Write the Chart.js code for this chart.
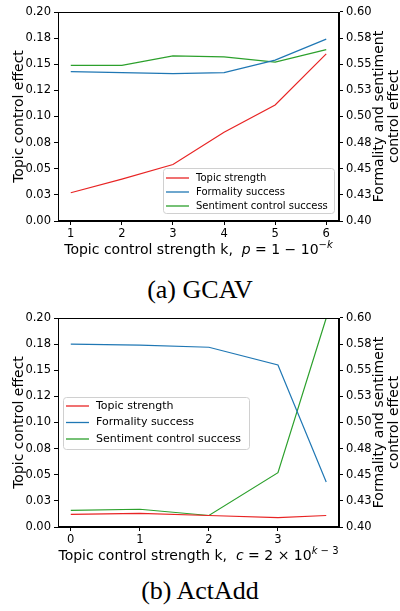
<!DOCTYPE html>
<html>
<head>
<meta charset="utf-8">
<script src="https://cdn.jsdelivr.net/npm/chart.js@4"></script>
<style>
  body { margin: 0; background: #fff; width: 400px; height: 611px; position: relative; overflow: hidden; }
  .box { position: absolute; left: 0; width: 400px; height: 262px; }
  .cap { position: absolute; left: 0; width: 400px; text-align: center; font-family: "Liberation Serif", serif; font-size: 26px; line-height: 30px; color: #000; }
</style>
</head>
<body>
<div class="box" style="top:0px"><canvas id="gcav" width="400" height="262"></canvas></div>
<div class="cap" style="top:275px">(a) GCAV</div>
<div class="box" style="top:306px"><canvas id="actadd" width="400" height="262"></canvas></div>
<div class="cap" style="top:576px">(b) ActAdd</div>
<script>
// values
const seriesNames = ["Topic strength", "Formality success", "Sentiment control success"];
const gcavK = [1, 2, 3, 4, 5, 6];
const gcavTopic = [0.027, 0.040, 0.054, 0.085, 0.111, 0.160];
const gcavFormality = [0.543, 0.542, 0.541, 0.542, 0.554, 0.574];
const gcavSentiment = [0.549, 0.549, 0.558, 0.557, 0.552, 0.564];

const actK = [0, 1, 2, 3, 3.699];
const actTopic = [0.012, 0.013, 0.011, 0.009, 0.011];
const actFormality = [0.575, 0.574, 0.572, 0.555, 0.443];
const actSentiment = [0.416, 0.417, 0.411, 0.452, 0.600];

const gcavTicks = [1, 2, 3, 4, 5, 6];
const actTicks = [0, 1, 2, 3];
const leftTicks = ["0.00", "0.03", "0.05", "0.08", "0.10", "0.12", "0.15", "0.18", "0.20"];
const rightTicks = ["0.40", "0.43", "0.45", "0.48", "0.50", "0.53", "0.55", "0.58", "0.60"];

const colors = ["#e82424", "#1f77b4", "#2ca02c"];
const FONT = "'DejaVu Sans', sans-serif";

const pts = (xs, ys) => xs.map((x, i) => ({ x: x, y: ys[i] }));

// draws frame, axis titles (with mathtext-ish parts) and the legend box
const decoPlugin = {
  id: "deco",
  afterDraw(chart, args, opts) {
    const ctx = chart.ctx;
    const a = chart.chartArea;
    ctx.save();
    ctx.strokeStyle = "#000";
    ctx.lineWidth = 1;
    ctx.strokeRect(Math.round(a.left) + 0.5, Math.round(a.top) + 0.5, Math.round(a.right - a.left) - 1, Math.round(a.bottom - a.top) - 1);

    // y titles
    const midY = (a.top + a.bottom) / 2;
    ctx.fillStyle = "#000";
    ctx.font = "14px " + FONT;
    ctx.textAlign = "center";
    ctx.textBaseline = "middle";
    ctx.save();
    ctx.translate(19, midY);
    ctx.rotate(-Math.PI / 2);
    ctx.fillText("Topic control effect", 0, 0);
    ctx.restore();
    ctx.save();
    ctx.translate(379, midY);
    ctx.rotate(-Math.PI / 2);
    ctx.fillText("Formality and sentiment", 0, 0);
    ctx.restore();
    ctx.save();
    ctx.translate(394, midY);
    ctx.rotate(-Math.PI / 2);
    ctx.fillText("control effect", 0, 0);
    ctx.restore();

    // x title built from segments
    const segs = opts.xTitle;
    const fontOf = s => (s.it ? "italic " : "") + (s.sup ? "10px " : "14px ") + FONT;
    let total = 0;
    segs.forEach(s => { ctx.font = fontOf(s); total += ctx.measureText(s.t).width; });
    let x = (a.left + a.right) / 2 - total / 2;
    ctx.textAlign = "left";
    ctx.textBaseline = "alphabetic";
    const base = opts.xTitleY + 5;
    segs.forEach(s => {
      ctx.font = fontOf(s);
      ctx.fillText(s.t, x, s.sup ? base - 6 : base);
      x += ctx.measureText(s.t).width;
    });

    // legend
    const L = opts.legend;
    ctx.fillStyle = "rgba(255,255,255,0.8)";
    ctx.strokeStyle = "#d0d0d0";
    ctx.beginPath();
    ctx.roundRect(L.x + 0.5, L.y + 0.5, L.w, L.h, 3);
    ctx.fill();
    ctx.stroke();
    ctx.font = L.size + "px " + FONT;
    ctx.textBaseline = "middle";
    chart.data.datasets.forEach((ds, i) => {
      const yy = L.y + L.first + i * L.gap;
      ctx.strokeStyle = ds.borderColor;
      ctx.lineWidth = 1.3;
      ctx.beginPath();
      ctx.moveTo(L.x + 3, yy);
      ctx.lineTo(L.x + 26, yy);
      ctx.stroke();
      ctx.fillStyle = "#000";
      ctx.fillText(ds.label, L.x + 33, yy);
    });
    ctx.restore();
  }
};

function makeChart(id, xs, topic, form, sent, xMin, xMax, xTicks, xTitle, legend) {
  const ds = (label, data, color, axis) => ({
    label: label, data: data, borderColor: color, backgroundColor: color,
    borderWidth: 1.2, pointRadius: 0, tension: 0, yAxisID: axis
  });
  const tickFont = { family: FONT, size: 11.5 };
  return new Chart(document.getElementById(id), {
    type: "line",
    data: {
      datasets: [
        ds(seriesNames[0], pts(xs, topic), colors[0], "y"),
        ds(seriesNames[1], pts(xs, form), colors[1], "y1"),
        ds(seriesNames[2], pts(xs, sent), colors[2], "y1")
      ]
    },
    options: {
      responsive: false,
      animation: false,
      layout: { padding: { top: 12, left: 0, right: 0, bottom: 0 } },
      plugins: {
        legend: { display: false },
        tooltip: { enabled: false },
        deco: { xTitle: xTitle, xTitleY: 249, legend: legend }
      },
      scales: {
        x: {
          type: "linear", min: xMin, max: xMax,
          afterBuildTicks: s => { s.ticks = xTicks.map(v => ({ value: v })); },
          afterFit: s => { s.height = 41; },
          grid: { drawOnChartArea: false, drawTicks: true, tickLength: 4, color: "#000" },
          border: { color: "#000" },
          ticks: { padding: 2, color: "#000", font: tickFont, callback: v => String(v) }
        },
        y: {
          position: "left", min: 0, max: 0.2,
          afterFit: s => { s.width = 58; },
          afterBuildTicks: s => { s.ticks = leftTicks.map((t, i) => ({ value: i * 0.025 })); },
          grid: { drawOnChartArea: false, drawTicks: true, tickLength: 4, color: "#000" },
          border: { color: "#000" },
          ticks: { padding: 3, color: "#000", font: tickFont, callback: (v, i) => leftTicks[i] }
        },
        y1: {
          position: "right", min: 0.4, max: 0.6,
          afterFit: s => { s.width = 61; },
          afterBuildTicks: s => { s.ticks = rightTicks.map((t, i) => ({ value: 0.4 + i * 0.025 })); },
          grid: { drawOnChartArea: false, drawTicks: true, tickLength: 4, color: "#000" },
          border: { color: "#000" },
          ticks: { padding: 3, color: "#000", font: tickFont, callback: (v, i) => rightTicks[i] }
        }
      }
    },
    plugins: [decoPlugin]
  });
}

makeChart("gcav", gcavK, gcavTopic, gcavFormality, gcavSentiment, 0.75, 6.25, gcavTicks,
  [{ t: "Topic control strength k,  " }, { t: "p", it: true }, { t: " = 1 \u2212 10" },
   { t: "\u2212", sup: true }, { t: "k", sup: true, it: true }],
  { x: 163, y: 168, w: 171, h: 45, first: 10, gap: 14, size: 10 });

makeChart("actadd", actK, actTopic, actFormality, actSentiment, -0.185, 3.884, actTicks,
  [{ t: "Topic control strength k,  " }, { t: "c", it: true }, { t: " = 2 \u00d7 10" },
   { t: "k", sup: true, it: true }, { t: " \u2212 3", sup: true }],
  { x: 63, y: 91, w: 186, h: 52, first: 9, gap: 16.5, size: 11 });
</script>
</body>
</html>
